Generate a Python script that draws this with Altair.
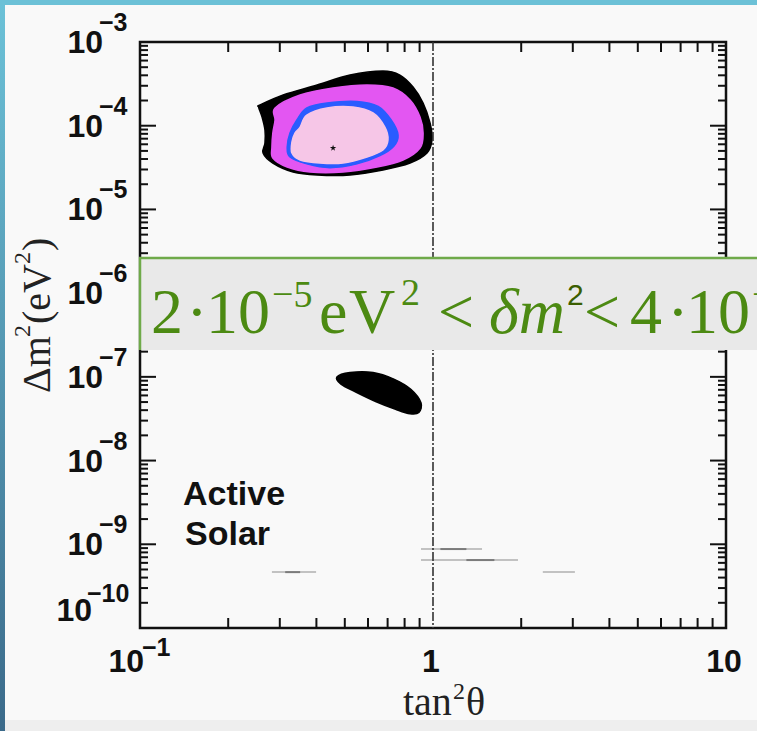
import altair as alt
import pandas as pd

# ---- allowed regions (tan^2 theta, delta m^2 in eV^2) ----
outer_tan2 = [0.257, 0.308, 0.402, 0.521, 0.675, 0.771, 0.855, 0.925, 0.977, 0.992, 0.954,
              0.835, 0.675, 0.521, 0.402, 0.333, 0.284, 0.263, 0.267, 0.267, 0.261, 0.254]
outer_dm2 = [1.77e-4, 2.33e-4, 3.06e-4, 4.03e-4, 4.50e-4, 4.03e-4, 2.90e-4, 1.87e-4, 1.08e-4,
             6.75e-5, 4.72e-5, 3.58e-5, 2.96e-5, 2.58e-5, 2.58e-5, 2.80e-5, 3.58e-5, 4.72e-5,
             6.21e-5, 8.88e-5, 1.27e-4, 1.67e-4]

magenta_tan2 = [0.289, 0.352, 0.456, 0.595, 0.730, 0.835, 0.903, 0.925, 0.903, 0.790, 0.644,
                0.493, 0.380, 0.318, 0.284, 0.282, 0.284, 0.289]
magenta_dm2 = [1.63e-4, 2.33e-4, 2.82e-4, 3.06e-4, 2.82e-4, 2.03e-4, 1.27e-4, 8.18e-5, 5.41e-5,
               3.89e-5, 3.21e-5, 2.80e-5, 2.80e-5, 3.21e-5, 4.11e-5, 5.57e-5, 8.18e-5, 1.17e-4]

blue_tan2 = [0.343, 0.371, 0.435, 0.550, 0.650, 0.720, 0.760, 0.735, 0.659, 0.550, 0.445,
             0.371, 0.325, 0.318, 0.325]
blue_dm2 = [1.17e-4, 1.63e-4, 1.87e-4, 1.95e-4, 1.70e-4, 1.17e-4, 7.74e-5, 5.70e-5, 4.40e-5,
            3.50e-5, 3.15e-5, 3.50e-5, 4.23e-5, 5.57e-5, 8.18e-5]

pink_tan2 = [0.352, 0.371, 0.435, 0.533, 0.624, 0.685, 0.702, 0.675, 0.595, 0.493, 0.411,
             0.352, 0.330, 0.330, 0.338]
pink_dm2 = [9.64e-5, 1.34e-4, 1.63e-4, 1.67e-4, 1.42e-4, 9.64e-5, 6.75e-5, 5.13e-5, 4.23e-5,
            3.58e-5, 3.58e-5, 3.89e-5, 4.72e-5, 6.38e-5, 8.18e-5]

low_tan2 = [0.470, 0.521, 0.624, 0.735, 0.840, 0.910, 0.895, 0.835, 0.745, 0.640, 0.545, 0.485]
low_dm2 = [1.00e-7, 1.13e-7, 1.13e-7, 9.40e-8, 7.10e-8, 4.90e-8, 3.75e-8, 3.62e-8, 4.10e-8,
           5.05e-8, 6.60e-8, 8.20e-8]

best_fit_tan2 = [0.456]
best_fit_dm2 = [5.41e-5]

# faint horizontal streaks near 1e-9
streak_dm2 = [8.77e-10, 6.48e-10, 4.65e-10, 4.65e-10]
streak_from = [0.910, 0.910, 0.282, 2.37]
streak_to = [1.47, 1.95, 0.399, 3.05]
streak_core_dm2 = [8.77e-10, 6.48e-10, 4.65e-10]
streak_core_from = [1.06, 1.30, 0.313]
streak_core_to = [1.30, 1.62, 0.352]

# axis ticks
x_minor = [0.2, 0.3, 0.4, 0.5, 0.6, 0.7, 0.8, 0.9, 2, 3, 4, 5, 6, 7, 8, 9]
y_decades = [-3, -4, -5, -6, -7, -8, -9, -10]
y_minor = [m * 10.0 ** e for e in range(-10, -3) for m in range(2, 10)]

# ---- layout ----
W, H = 586, 586
X0, Y0 = 140, 42           # plot origin inside the page
GREEN = "#4c8a12"

xs = alt.Scale(type="log", domain=[0.1, 10], nice=False)
ys = alt.Scale(type="log", domain=[1e-10, 1e-3], nice=False)
X = alt.X("tan2:Q", scale=xs, axis=None)
Y = alt.Y("dm2:Q", scale=ys, axis=None)
one = alt.Data(values=[{"k": 0}])


def region(tx, dy, color):
    df = pd.DataFrame({"tan2": tx, "dm2": dy, "i": range(len(tx))})
    return alt.Chart(df).mark_line(
        interpolate="cardinal-closed", fill=color, stroke=color, strokeWidth=1.5
    ).encode(x=X, y=Y, order="i:Q")


def label(text, x, y, size, font="Liberation Sans", weight="bold", style="normal",
          color="#111111", align="left", angle=0):
    return alt.Chart(one).mark_text(
        text=text, align=align, baseline="alphabetic", font=font, fontSize=size,
        fontWeight=weight, fontStyle=style, color=color, angle=angle
    ).encode(x=alt.value(x - X0), y=alt.value(y - Y0))


def rect(x1, x2, y1, y2, fill):
    return alt.Chart(one).mark_rect(fill=fill, stroke=None).encode(
        x=alt.value(x1 - X0), x2=alt.value(x2 - X0),
        y=alt.value(y1 - Y0), y2=alt.value(y2 - Y0))


layers = []

# page decoration
layers.append(alt.Chart(one).mark_rect(
    fill=alt.LinearGradient(gradient="linear", x1=0, x2=0, y1=0, y2=1,
                            stops=[alt.GradientStop(color="#6cc2d8", offset=0),
                                   alt.GradientStop(color="#3b6a8a", offset=1)])
).encode(x=alt.value(-X0), x2=alt.value(5 - X0), y=alt.value(-Y0), y2=alt.value(731 - Y0)))
layers.append(rect(0, 757, 0, 5, "#6cc1d7"))
layers.append(rect(5, 757, 720, 731, "#eeeeee"))

# regions
layers.append(region(outer_tan2, outer_dm2, "#000000"))
layers.append(region(magenta_tan2, magenta_dm2, "#e356f2"))
layers.append(region(blue_tan2, blue_dm2, "#2a5cff"))
layers.append(region(pink_tan2, pink_dm2, "#f6c6e7"))
layers.append(region(low_tan2, low_dm2, "#000000"))

star = "M0,-1L0.2245,-0.309L0.951,-0.309L0.363,0.118L0.588,0.809L0,0.382L-0.588,0.809L-0.363,0.118L-0.951,-0.309L-0.2245,-0.309Z"
layers.append(alt.Chart(pd.DataFrame({"tan2": best_fit_tan2, "dm2": best_fit_dm2}))
              .mark_point(shape=star, filled=True, color="#111111", size=45, opacity=1)
              .encode(x=X, y=Y))

# streaks
sdf = pd.DataFrame({"tan2": streak_from, "t2": streak_to, "dm2": streak_dm2})
layers.append(alt.Chart(sdf).mark_rule(color="#c2c2c2", strokeWidth=2)
              .encode(x=X, x2="t2:Q", y=Y))
cdf = pd.DataFrame({"tan2": streak_core_from, "t2": streak_core_to, "dm2": streak_core_dm2})
layers.append(alt.Chart(cdf).mark_rule(color="#7c7c7c", strokeWidth=2)
              .encode(x=X, x2="t2:Q", y=Y))

# tan^2 theta = 1
layers.append(alt.Chart(pd.DataFrame({"tan2": [1.0]})).mark_rule(
    color="#333333", strokeWidth=1.6, strokeDash=[9, 2, 2, 2]
).encode(x=X, y=alt.value(0), y2=alt.value(H)))

# ticks (inward, all four sides)
xm = pd.DataFrame({"tan2": x_minor})
tick = dict(color="#111111", strokeWidth=2)
layers.append(alt.Chart(xm).mark_rule(**tick).encode(x=X, y=alt.value(H), y2=alt.value(H - 10)))
layers.append(alt.Chart(xm).mark_rule(**tick).encode(x=X, y=alt.value(0), y2=alt.value(10)))
ymaj = pd.DataFrame({"dm2": [10.0 ** e for e in y_decades]})
ymin = pd.DataFrame({"dm2": y_minor})
layers.append(alt.Chart(ymaj).mark_rule(**tick).encode(y=Y, x=alt.value(0), x2=alt.value(16)))
layers.append(alt.Chart(ymaj).mark_rule(**tick).encode(y=Y, x=alt.value(W - 16), x2=alt.value(W)))
layers.append(alt.Chart(ymin).mark_rule(**tick).encode(y=Y, x=alt.value(0), x2=alt.value(8)))
layers.append(alt.Chart(ymin).mark_rule(**tick).encode(y=Y, x=alt.value(W - 8), x2=alt.value(W)))

# y tick labels 10^e
ylab = pd.DataFrame({"dm2": [10.0 ** e for e in y_decades],
                     "base": ["10"] * len(y_decades),
                     "sup": ["\u2212" + str(-e) for e in y_decades],
                     "e": y_decades})
lab_font = dict(font="Liberation Sans", fontWeight="bold", color="#111111")
BASE, SUP = 32, 25
main_y = alt.Chart(ylab).transform_filter("datum.e > -10")
last_y = alt.Chart(ylab).transform_filter("datum.e == -10")
layers.append(main_y.mark_text(align="right", baseline="alphabetic", fontSize=BASE, dy=11, **lab_font)
              .encode(y=Y, x=alt.value(103 - X0), text="base:N"))
layers.append(main_y.mark_text(align="left", baseline="alphabetic", fontSize=SUP, dy=-11, **lab_font)
              .encode(y=Y, x=alt.value(99 - X0), text="sup:N"))
layers.append(last_y.mark_text(align="right", baseline="alphabetic", fontSize=BASE, dy=-7, **lab_font)
              .encode(y=Y, x=alt.value(92 - X0), text="base:N"))
layers.append(last_y.mark_text(align="left", baseline="alphabetic", fontSize=SUP, dy=-26, **lab_font)
              .encode(y=Y, x=alt.value(87 - X0), text="sup:N"))

# x tick labels
xlab = pd.DataFrame({"tan2": [1.0, 10.0], "txt": ["1", "10"]})
layers.append(alt.Chart(xlab).mark_text(align="center", baseline="alphabetic", fontSize=BASE, dx=-2, **lab_font)
              .encode(x=X, y=alt.value(672 - Y0), text="txt:N"))
xfirst = pd.DataFrame({"tan2": [0.1], "base": ["10"], "sup": ["\u22121"]})
layers.append(alt.Chart(xfirst).mark_text(align="right", baseline="alphabetic", fontSize=BASE, dx=4, **lab_font)
              .encode(x=X, y=alt.value(672 - Y0), text="base:N"))
layers.append(alt.Chart(xfirst).mark_text(align="left", baseline="alphabetic", fontSize=SUP, dx=2, **lab_font)
              .encode(x=X, y=alt.value(656 - Y0), text="sup:N"))

# axis titles (superscripts set as raised smaller text)
title = dict(font="Liberation Serif", weight="normal", color="#222222")
layers.append(label("tan", 403, 715, 40, **title))
layers.append(label("2", 453, 699, 24, **title))
layers.append(label("\u03b8", 466, 715, 40, **title))

layers.append(label("\u0394m", 50, 393, 40, angle=270, **title))
layers.append(label("2", 30, 337, 24, angle=270, **title))
layers.append(label("(eV", 50, 324, 40, angle=270, **title))
layers.append(label("2", 30, 264, 24, angle=270, **title))
layers.append(label(")", 50, 251, 40, angle=270, **title))

# in-plot caption
layers.append(label("Active", 183, 505, 34))
layers.append(label("Solar", 185, 545, 34))

# highlighted range box
layers.append(rect(138.5, 757, 258, 350, "#e9e9e9"))
layers.append(alt.Chart(one).mark_rule(color="#6faa4a", strokeWidth=2.5).encode(
    x=alt.value(139 - X0), x2=alt.value(757 - X0), y=alt.value(258 - Y0)))
layers.append(alt.Chart(one).mark_rule(color="#6faa4a", strokeWidth=2.5).encode(
    x=alt.value(140 - X0), y=alt.value(258 - Y0), y2=alt.value(350 - Y0)))

serif = dict(font="Liberation Serif", weight="normal", color=GREEN)
BIG = 64
layers.append(label("2", 151, 333, BIG, **serif))
layers.append(label("\u00b7", 197, 333, BIG, align="center", **serif))
layers.append(label("10", 206, 333, BIG, **serif))
layers.append(label("\u22125", 272, 307, 38, **serif))
layers.append(label("e", 319, 333, BIG, **serif))
layers.append(label("V", 372, 333, BIG, align="center", **serif))
layers.append(label("2", 401, 305, 38, **serif))
layers.append(label("<", 438, 333, BIG, **serif))
layers.append(label("\u03b4m", 489, 333, BIG, style="italic", **serif))
layers.append(label("2", 567, 305, 30, font="Liberation Sans", weight="normal", color="#3b5e00"))
layers.append(label("<", 584, 333, BIG, **serif))
layers.append(label("4", 630, 333, BIG, **serif))
layers.append(label("\u00b7", 678, 333, BIG, align="center", **serif))
layers.append(label("10", 686, 333, BIG, **serif))
layers.append(label("\u22124", 752, 307, 38, **serif))

chart = alt.layer(*layers).properties(
    width=W, height=H,
    padding={"left": X0, "top": Y0, "right": 757 - X0 - W, "bottom": 731 - Y0 - H},
    autosize=alt.AutoSizeParams(type="none"),
    background="#f9f9f9",
).configure_view(stroke="#111111", strokeWidth=2.5, fill="#f9f9f9")

chart.save("out.html", embed_options={"renderer": "svg", "actions": False})
